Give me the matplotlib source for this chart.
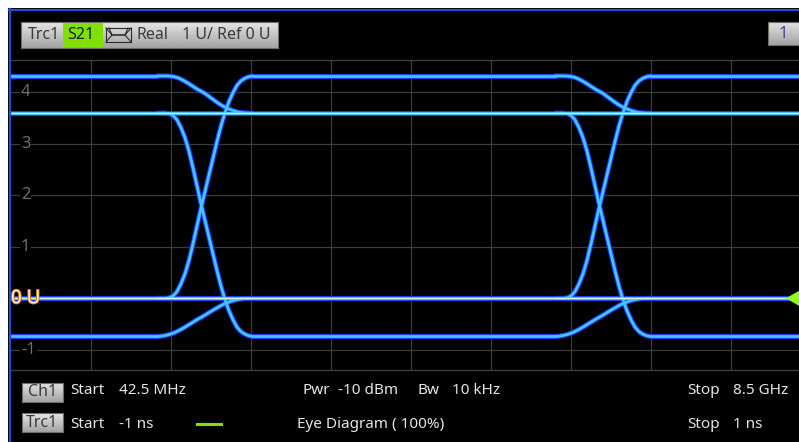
import numpy as np
import matplotlib
matplotlib.use("Agg")
import matplotlib.pyplot as plt
from matplotlib.colors import LinearSegmentedColormap
from matplotlib.patches import Rectangle, Polygon
from matplotlib.lines import Line2D
import matplotlib.patheffects as pe

plt.rcParams['font.family'] = ['Noto Sans', 'DejaVu Sans']

W, H = 799, 442

# --- DATA ---
T_START, T_STOP = -1.0, 1.0            # ns
T_VISIBLE = 0.97                        # right edge of screenshot is cut
Y_MIN, Y_MAX = -1.39, 4.62
Y_TICKS = [-1, 1, 2, 3, 4]
T_GRID = [-0.8, -0.6, -0.4, -0.2, 0.0, 0.2, 0.4, 0.6, 0.8]
CROSSINGS = [-0.515, 0.48]              # ns

LEVEL_OVER_HIGH = 4.31
LEVEL_HIGH = 3.59
LEVEL_LOW = 0.0
LEVEL_OVER_LOW = -0.74

# edge shapes around a crossing: time offset (ns) -> fraction of the step
EDGE_T = [-0.12, -0.11, -0.10, -0.09, -0.08, -0.07, -0.06, -0.05, -0.04,
          -0.03, -0.02, -0.01, 0.0, 0.01, 0.02, 0.03, 0.04, 0.05, 0.06,
          0.07, 0.08, 0.09, 0.10, 0.11, 0.12]
FAST_EDGE = [0.0, 0.0, 0.0, 0.002, 0.01, 0.03, 0.065, 0.11, 0.17, 0.245, 0.325,
             0.405, 0.48, 0.555, 0.63, 0.705, 0.775, 0.835, 0.885, 0.925, 0.958,
             0.978, 0.99, 0.997, 1.0]
SLOW_FALL = [0.0, 0.0, 0.0, 0.003, 0.015, 0.04, 0.085, 0.145, 0.21, 0.28, 0.35,
             0.41, 0.47, 0.55, 0.63, 0.71, 0.78, 0.84, 0.89, 0.93, 0.965,
             0.985, 0.995, 1.0, 1.0]
SLOW_RISE = [0.0, 0.008, 0.025, 0.05, 0.085, 0.13, 0.185, 0.245, 0.31, 0.375,
             0.44, 0.50, 0.56, 0.625, 0.69, 0.75, 0.81, 0.86, 0.905, 0.94,
             0.965, 0.982, 0.993, 0.998, 1.0]

EDGES = [
    (LEVEL_LOW, LEVEL_OVER_HIGH, FAST_EDGE),
    (LEVEL_HIGH, LEVEL_OVER_LOW, FAST_EDGE),
    (LEVEL_OVER_HIGH, LEVEL_HIGH, SLOW_FALL),
    (LEVEL_OVER_LOW, LEVEL_LOW, SLOW_RISE),
]

HEADER_ITEMS = [("Trc1", 28), ("Real", 137), ("1 U/ Ref 0 U", 182)]
INFO_ROW1 = [("Start", 70), ("42.5 MHz", 119), ("Pwr", 302), ("-10 dBm", 338),
             ("Bw", 417), ("10 kHz", 452), ("Stop", 687), ("8.5 GHz", 733)]
INFO_ROW2 = [("Start", 70), ("-1 ns", 119), ("Eye Diagram ( 100%)", 297),
             ("Stop", 687), ("1 ns", 733)]

# --- COLOURS ---
BG = "#000000"
GRID = "#3c3c3c"
TICK_TXT = "#6e6e6e"
HALO = "#1a3cff"
CORE = "#46c4ff"
CENTER = "#c8ffc0"
GREEN = "#80e000"
BORDER_BLUE = "#2050d0"
TXT = "#e6e6e6"

fig = plt.figure(figsize=(W / 100, H / 100), dpi=100)
fig.patch.set_facecolor(BG)


def fx(x):
    return x / W


def fy(y):
    return 1 - y / H


button_cmap = LinearSegmentedColormap.from_list("btn", ["#e4e4e4", "#a4a4a4"])


def button(x0, y0, x1, y1):
    bax = fig.add_axes([fx(x0), fy(y1), fx(x1 - x0), (y1 - y0) / H])
    bax.imshow(np.linspace(0, 1, 20).reshape(-1, 1), aspect="auto",
               cmap=button_cmap, extent=[0, 1, 0, 1])
    bax.set_xticks([])
    bax.set_yticks([])
    for s in bax.spines.values():
        s.set_color("#6e6e6e")
        s.set_linewidth(0.8)
    return bax


# white frame + blue window border
fig.patches.append(Rectangle((0, fy(8)), 1, 8 / H, transform=fig.transFigure,
                             facecolor="white", edgecolor="none"))
fig.patches.append(Rectangle((0, 0), fx(8), 1, transform=fig.transFigure,
                             facecolor="white", edgecolor="none"))
fig.lines.append(Line2D([fx(9), 1], [fy(9.5), fy(9.5)], transform=fig.transFigure,
                        color=BORDER_BLUE, lw=1.6))
fig.lines.append(Line2D([fx(9.5), fx(9.5)], [0, fy(9)], transform=fig.transFigure,
                        color=BORDER_BLUE, lw=1.6))

# --- main diagram ---
ax = fig.add_axes([fx(11), fy(370), fx(W - 11), 310 / H])
ax.set_facecolor(BG)
ax.set_xlim(T_START, T_VISIBLE)
ax.set_ylim(Y_MIN, Y_MAX)
ax.set_xticks([])
ax.set_yticks([])
for side in ["left", "right"]:
    ax.spines[side].set_visible(False)
for side in ["top", "bottom"]:
    ax.spines[side].set_color(GRID)
    ax.spines[side].set_linewidth(1.0)

for t in T_GRID:
    ax.axvline(t, color=GRID, lw=0.9, zorder=1)
for v in Y_TICKS:
    ax.axhline(v, color=GRID, lw=0.9, zorder=1)
    ax.text(T_START + 0.025, v, str(v), color=TICK_TXT, fontsize=12,
            va="center", ha="left", zorder=2,
            bbox=dict(facecolor=BG, edgecolor="none", pad=0.6))

# collect trace pieces
segments = []
flat_full = []
for lvl in [LEVEL_HIGH, LEVEL_LOW]:
    seg = ([T_START, T_STOP], [lvl, lvl])
    segments.append(seg)
    flat_full.append(seg)

bounds = [T_START] + [b for c in CROSSINGS for b in (c + EDGE_T[0], c + EDGE_T[-1])] + [T_STOP]
for lvl in [LEVEL_OVER_HIGH, LEVEL_OVER_LOW]:
    for i in range(0, len(bounds), 2):
        segments.append(([bounds[i], bounds[i + 1]], [lvl, lvl]))

et = np.array(EDGE_T)
for c in CROSSINGS:
    for a, b, prof in EDGES:
        segments.append((c + et, a + (b - a) * np.array(prof)))

for xs, ys in segments:
    ax.plot(xs, ys, color=HALO, lw=3.6, solid_capstyle="round",
            solid_joinstyle="round", zorder=3)
for xs, ys in segments:
    ax.plot(xs, ys, color=CORE, lw=2.0, solid_capstyle="round",
            solid_joinstyle="round", zorder=4)
for xs, ys in flat_full:
    ax.plot(xs, ys, color=CENTER, lw=0.9, zorder=5)

# reference label and marker
ax.text(T_START + 0.0, LEVEL_LOW, "0 U", color="#fff2d8", fontsize=13.5,
        va="center", ha="left", zorder=6,
        path_effects=[pe.withStroke(linewidth=1.4, foreground="#c87010")])
ax.add_patch(Polygon([[0.9375, 0.0], [T_VISIBLE + 0.01, 0.19],
                      [T_VISIBLE + 0.01, -0.19]], closed=True,
                     facecolor="#90ff20", edgecolor="none", zorder=7,
                     clip_on=False))

# --- header ---
button(21, 22, 278, 48)
fig.patches.append(Rectangle((fx(63), fy(47)), fx(40), 24 / H,
                             transform=fig.transFigure, facecolor=GREEN,
                             edgecolor="none", zorder=3))
fig.text(fx(67), fy(35), "S21", color="#1a1a1a", fontsize=11.5,
         va="center", ha="left", zorder=4)
for label, x in HEADER_ITEMS:
    fig.text(fx(x), fy(35), label, color="#3a3a3a", fontsize=11.5,
             va="center", ha="left", zorder=4)

# little eye icon
ix0, ix1, iy0, iy1 = 106, 131, 28, 42
for xs, ys in [([ix0, ix1], [iy0, iy0]), ([ix0, ix1], [iy1, iy1]),
               ([ix0, ix0], [iy0, iy1]), ([ix1, ix1], [iy0, iy1]),
               ([ix0, 112, 125, ix1], [iy0, 35, 35, iy1]),
               ([ix0, 112, 125, ix1], [iy1, 35, 35, iy0]),
               ([ix0 + 3, 112], [iy0, 35]), ([ix1 - 3, 125], [iy0, 35])]:
    fig.lines.append(Line2D([fx(v) for v in xs], [fy(v) for v in ys],
                            transform=fig.transFigure, color="#2a2a2a",
                            lw=0.8, zorder=5))

button(768, 22, 800, 45)
fig.text(fx(783), fy(34), "1", color="#304a90", fontsize=12,
         va="center", ha="center", zorder=4)

# --- bottom info lines ---
button(22, 383, 63, 402)
fig.text(fx(42.5), fy(392), "Ch1", color="#3a3a3a", fontsize=11.5,
         va="center", ha="center", zorder=4)
button(22, 413, 63, 432)
fig.text(fx(42.5), fy(423), "Trc1", color="#3a3a3a", fontsize=11.5,
         va="center", ha="center", zorder=4)

for label, x in INFO_ROW1:
    fig.text(fx(x), fy(391), label, color=TXT, fontsize=11,
             va="center", ha="left")
for label, x in INFO_ROW2:
    fig.text(fx(x), fy(424), label, color=TXT, fontsize=11,
             va="center", ha="left")
fig.lines.append(Line2D([fx(197), fx(221)], [fy(424), fy(424)],
                        transform=fig.transFigure, color=GREEN, lw=2.2))

fig.savefig("out.png", dpi=100, facecolor=BG)
